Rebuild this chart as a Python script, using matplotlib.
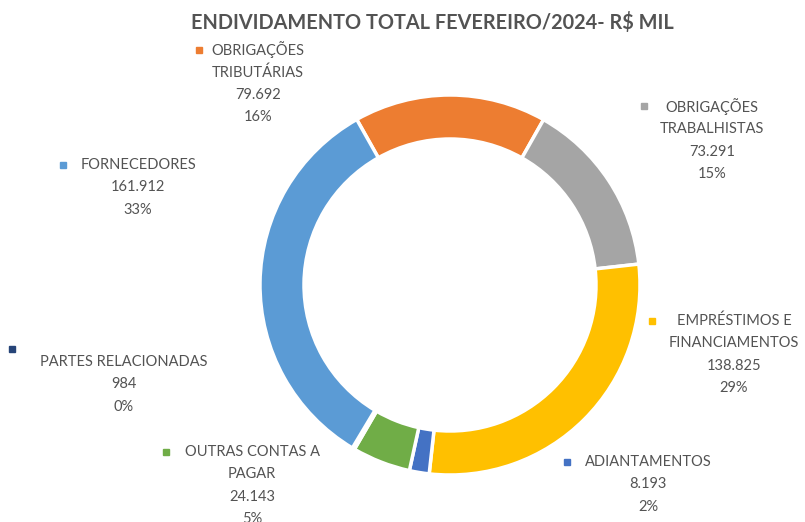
import matplotlib
matplotlib.use("Agg")
import matplotlib.pyplot as plt

# dados (R$ mil) - fevereiro/2024
categorias = ["OBRIGAÇÕES\nTRIBUTÁRIAS", "OBRIGAÇÕES\nTRABALHISTAS",
              "EMPRÉSTIMOS E\nFINANCIAMENTOS", "ADIANTAMENTOS",
              "OUTRAS CONTAS A\nPAGAR", "PARTES RELACIONADAS", "FORNECEDORES"]
valores = [79692, 73291, 138825, 8193, 24143, 984, 161912]
cores = ["#ED7D31", "#A5A5A5", "#FFC000", "#4472C4", "#70AD47", "#264478", "#5B9BD5"]

# posicao dos rotulos em pixels (centro x, y da 1a linha, marcador x, marcador y)
rotulos_pos = [(258, 50, 199, 50), (712, 107, 644, 106), (734, 321, 652, 321),
               (648, 462, 567, 462), (252, 452, 166, 452), (124, 362, 12, 349),
               (138, 165, 63, 165)]

W, H = 805, 522
FONTE = "Lato"
COR_TXT = "#535353"

fig = plt.figure(figsize=(W / 100, H / 100), dpi=100)
ax = fig.add_axes([0, 0, 1, 1])

ax.pie(valores, colors=cores, startangle=119.4, counterclock=False,
       radius=190, center=(450, H - 285),
       wedgeprops=dict(width=44, edgecolor="white", linewidth=2.5))

ax.set_xlim(0, W)
ax.set_ylim(0, H)
ax.set_aspect("equal")
ax.axis("off")

total = sum(valores)
for nome, v, cor, (cx, y0, mx, my) in zip(categorias, valores, cores, rotulos_pos):
    linhas = nome.split("\n") + [f"{v:,}".replace(",", "."), f"{round(v / total * 100)}%"]
    for i, linha in enumerate(linhas):
        ax.text(cx, H - (y0 + i * 22.3), linha, ha="center", va="center",
                fontsize=10.5, color=COR_TXT, family=FONTE)
    ax.plot(mx, H - my, marker="s", markersize=5, color=cor, linestyle="none")

# o "5%" fica cortado na borda inferior, como no original
ax.text(432, H - 23, "ENDIVIDAMENTO TOTAL FEVEREIRO/2024- R$ MIL", ha="center",
        va="center", fontsize=14.3, fontweight="bold", color=COR_TXT, family=FONTE)

fig.savefig("out.png", dpi=100)
